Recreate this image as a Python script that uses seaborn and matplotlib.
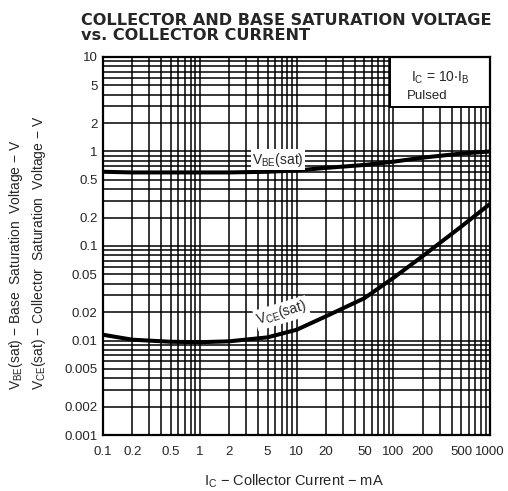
import numpy as np
import pandas as pd
import matplotlib
matplotlib.use("Agg")
import matplotlib.pyplot as plt
import seaborn as sns
from matplotlib.patches import Rectangle
from matplotlib.ticker import FixedLocator, NullFormatter

# values
ic_ma = [0.1, 0.2, 0.5, 1, 2, 5, 10, 20, 50, 100, 200, 500, 1000]
vbe_sat = [0.61, 0.60, 0.60, 0.60, 0.60, 0.61, 0.63, 0.67, 0.72, 0.78, 0.86, 0.95, 1.0]
vce_sat = [0.0115, 0.0102, 0.0097, 0.0096, 0.0098, 0.0108, 0.013, 0.018, 0.028, 0.046, 0.078, 0.16, 0.28]

x_ticks = [0.1, 0.2, 0.5, 1, 2, 5, 10, 20, 50, 100, 200, 500, 1000]
x_tick_labels = ["0.1", "0.2", "0.5", "1", "2", "5", "10", "20", "50", "100", "200", "500", "1000"]
y_ticks = [0.001, 0.002, 0.005, 0.01, 0.02, 0.05, 0.1, 0.2, 0.5, 1, 2, 5, 10]
y_tick_labels = ["0.001", "0.002", "0.005", "0.01", "0.02", "0.05", "0.1", "0.2", "0.5", "1", "2", "5", "10"]

sns.set_style("white")
plt.rcParams['font.family'] = ['Liberation Sans', 'DejaVu Sans']
plt.rcParams['mathtext.default'] = 'regular'

df = pd.DataFrame({
    'ic': ic_ma * 2,
    'v': vbe_sat + vce_sat,
    'curve': ['VBE'] * len(ic_ma) + ['VCE'] * len(ic_ma),
})

fig = plt.figure(figsize=(5.08, 4.91), dpi=100)
ax = fig.add_axes([0.203, 0.114, 0.762, 0.770])

sns.lineplot(data=df, x='ic', y='v', units='curve', estimator=None,
             color='black', linewidth=2.9, ax=ax, zorder=5)

ax.set_xscale('log')
ax.set_yscale('log')
ax.set_xlim(0.1, 1000)
ax.set_ylim(0.001, 10)

# grid on every 1..9 line
minor_x = [m * 10.0 ** e for e in range(-1, 3) for m in range(2, 10)]
minor_y = [m * 10.0 ** e for e in range(-3, 1) for m in range(2, 10)]
ax.xaxis.set_major_locator(FixedLocator(x_ticks))
ax.set_xticklabels(x_tick_labels)
ax.yaxis.set_major_locator(FixedLocator(y_ticks))
ax.set_yticklabels(y_tick_labels)
ax.xaxis.set_minor_locator(FixedLocator(minor_x))
ax.yaxis.set_minor_locator(FixedLocator(minor_y))
ax.xaxis.set_minor_formatter(NullFormatter())
ax.yaxis.set_minor_formatter(NullFormatter())
ax.grid(True, which='both', color='black', linewidth=1.1)
ax.set_axisbelow(True)
ax.tick_params(which='both', length=0, labelsize=9.5)
ax.tick_params(axis='x', pad=8)
ax.tick_params(axis='y', pad=4)
for s in ax.spines.values():
    s.set_linewidth(1.6)
    s.set_color('black')
    s.set_zorder(10)

# condition box in the upper right corner
ax.add_patch(Rectangle((0.741, 0.868), 0.259, 0.132, transform=ax.transAxes,
                       facecolor='white', edgecolor='black', linewidth=1.4, zorder=6))
ax.text(0.795, 0.945, r'$I_C$ = 10$\cdot I_B$', transform=ax.transAxes,
        fontsize=10, va='center', ha='left', zorder=7)
ax.text(0.785, 0.898, 'Pulsed', transform=ax.transAxes,
        fontsize=9.5, va='center', ha='left', zorder=7)

# curve labels
ax.text(6.4, 0.82, r'$V_{BE}$(sat)', fontsize=10, ha='center', va='center', zorder=7,
        bbox=dict(facecolor='white', edgecolor='none', pad=1))
ax.text(7.0, 0.0195, r'$V_{CE}$(sat)', fontsize=10, ha='center', va='center', zorder=7,
        rotation=17, bbox=dict(facecolor='white', edgecolor='none', pad=1))

ax.set_xlabel('')
ax.set_ylabel('')
fig.text(0.578, 0.020, r'$I_C$ − Collector Current − mA', fontsize=10.5, ha='center', va='center')
fig.text(0.032, 0.206, r'$V_{BE}$(sat) − Base  Saturation  Voltage − V', fontsize=10,
         rotation=90, ha='center', va='bottom')
fig.text(0.076, 0.206, r'$V_{CE}$(sat) − Collector  Saturation  Voltage − V', fontsize=10,
         rotation=90, ha='center', va='bottom')

fig.text(0.160, 0.958, 'COLLECTOR AND BASE SATURATION VOLTAGE', fontsize=11.6,
         fontweight='bold', ha='left', va='center', family='DejaVu Sans')
fig.text(0.160, 0.928, 'vs. COLLECTOR CURRENT', fontsize=11.6,
         fontweight='bold', ha='left', va='center', family='DejaVu Sans')

fig.savefig('out.png', dpi=100)
